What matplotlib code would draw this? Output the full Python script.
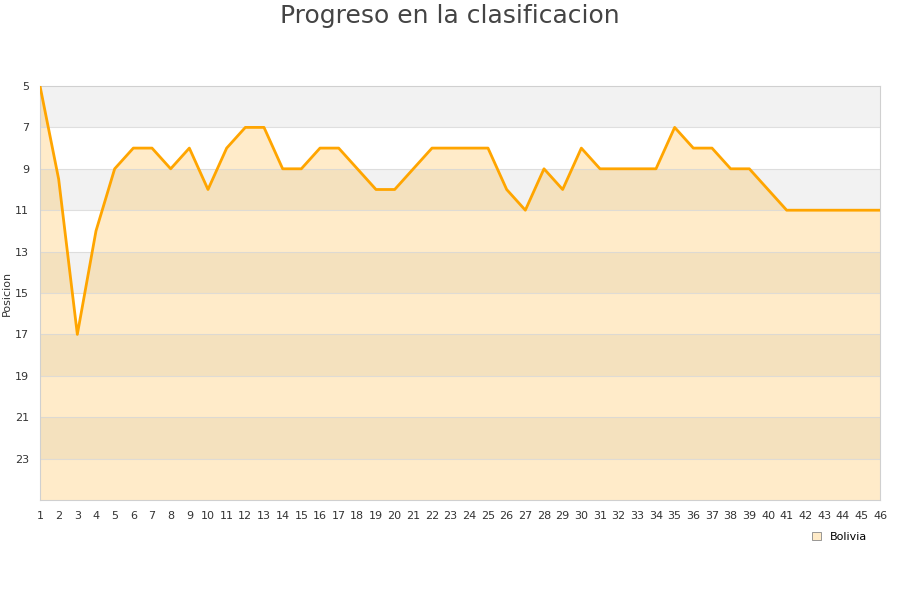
import numpy as np
import matplotlib
matplotlib.use('Agg')
import matplotlib.pyplot as plt
from matplotlib.patches import Patch

# Bolivia's ranking per match day
jornadas = list(range(1, 47))
posicion = [5, 9.5, 17, 12, 9, 8, 8, 9, 8, 10,
            8, 7, 7, 9, 9, 8, 8, 9, 10, 10,
            9, 8, 8, 8, 8, 10, 11, 9, 10, 8,
            9, 9, 9, 9, 7, 8, 8, 9, 9, 10,
            11, 11, 11, 11, 11, 11]
y_ticks = list(range(5, 25, 2))
equipo = 'Bolivia'

fig = plt.figure(figsize=(9, 6), dpi=100)
ax = fig.add_axes([40/900, 100/600, 840/900, 414/600])

# alternating background bands
for lo in range(5, 25, 4):
    ax.axhspan(lo, lo + 2, color='#f2f2f2', zorder=0, lw=0)

ax.fill_between(jornadas, posicion, 25, color='#ffa500', alpha=0.21, lw=0, zorder=1)
ax.plot(jornadas, posicion, color='#ffa500', lw=2, zorder=3)

for yv in y_ticks[1:]:
    ax.axhline(yv, color='#d8d8d8', lw=0.8, alpha=0.8, zorder=2)

ax.set_xlim(1, 46)
ax.set_ylim(25, 5)
ax.set_xticks(jornadas)
ax.set_yticks(y_ticks)
ax.tick_params(length=0, labelsize=8, colors='#333333', pad=8)
ax.tick_params(axis='x', labelsize=8, pad=8)
for s in ax.spines.values():
    s.set_color('#d0d0d0')
ax.set_ylabel('Posicion', fontsize=8, color='#333333', labelpad=2)

fig.text(0.5, 1 - 16/600, 'Progreso en la clasificacion', fontsize=18,
         color='#444444', ha='center', va='center')

handle = Patch(facecolor='#ffebc8', edgecolor='#888888', lw=0.6)
fig.legend([handle], [equipo], loc='center', bbox_to_anchor=(840/900, 1 - 537/600),
           frameon=False, fontsize=8, handlelength=0.8, handleheight=0.8,
           handletextpad=0.8)

fig.savefig('out.png', dpi=100)
